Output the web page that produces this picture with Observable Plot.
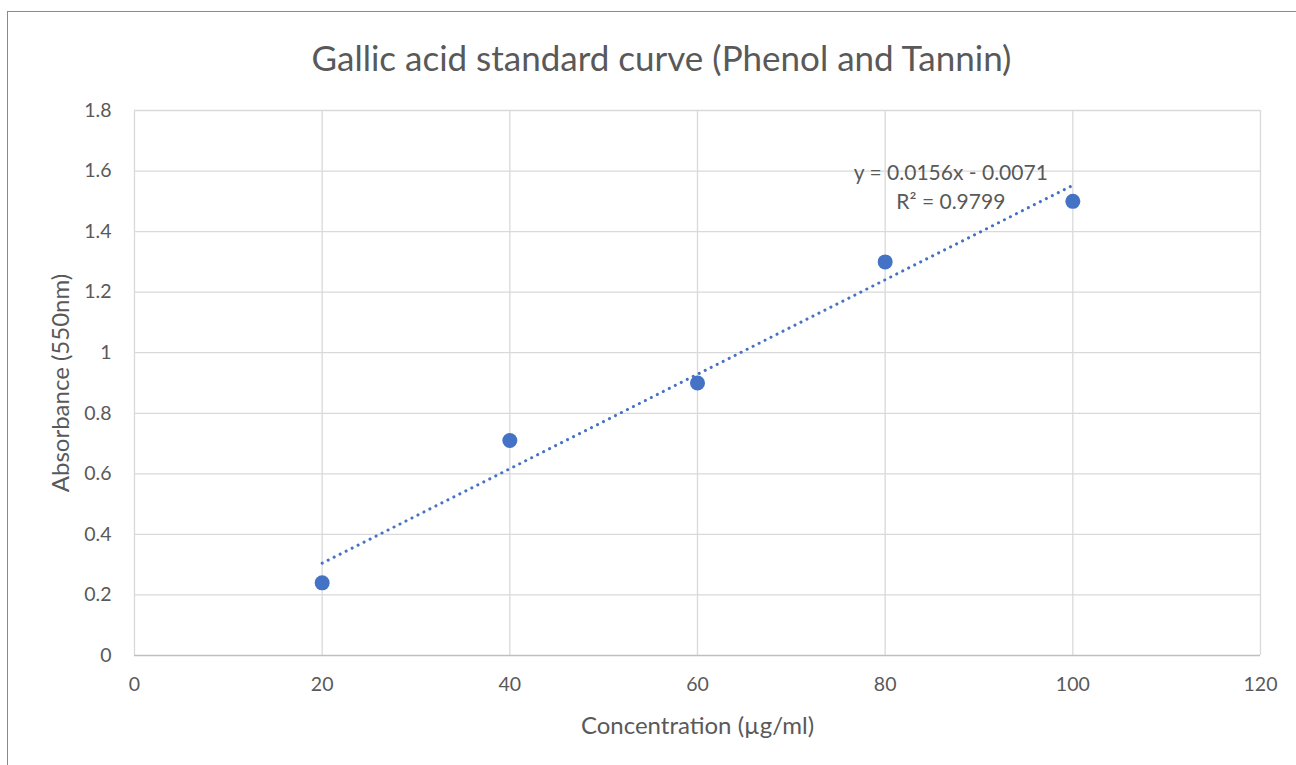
<!DOCTYPE html>
<html>
<head>
<meta charset="utf-8">
<script src="https://cdn.jsdelivr.net/npm/d3@7"></script>
<script src="https://cdn.jsdelivr.net/npm/@observablehq/plot@0.6"></script>
<style>
  html, body { margin: 0; padding: 0; background: #fff; }
  #wrap { position: relative; width: 1296px; height: 765px; overflow: hidden; font-family: Lato, "Open Sans", sans-serif; }
  #chart { position: absolute; left: 0; top: 0; }
  #frame { position: absolute; left: 7px; top: 11px; width: 1400px; height: 900px; border: 1.5px solid #8a8a8a; box-sizing: border-box; pointer-events: none; }
  #title { position: absolute; top: 36px; left: 0; width: 1323px; text-align: center; font-size: 35px; line-height: 42px; color: #595959; font-family: Lato, "Open Sans", sans-serif; }
</style>
</head>
<body>
<div id="wrap">
  <div id="chart"></div>
  <div id="title"></div>
  <div id="frame"></div>
</div>
<script>
const title = "Gallic acid standard curve (Phenol and Tannin)";
const xLabel = "Concentration (µg/ml)";
const yLabel = "Absorbance (550nm)";
const concentration = [20, 40, 60, 80, 100];
const absorbance = [0.24, 0.71, 0.90, 1.30, 1.50];
const xTicks = [0, 20, 40, 60, 80, 100, 120];
const yTicks = [0, 0.2, 0.4, 0.6, 0.8, 1, 1.2, 1.4, 1.6, 1.8];
const slope = 0.0156;
const intercept = -0.0071;
const eqLines = ["y = 0.0156x - 0.0071", "R² = 0.9799"];

document.getElementById("title").textContent = title;

const points = concentration.map((c, i) => ({x: c, y: absorbance[i]}));
const xMin = d3.min(concentration), xMax = d3.max(concentration);
const trend = [xMin, xMax].map(x => ({x, y: slope * x + intercept}));

const blue = "#4472C4";
const grid = "#d9d9d9";
const textCol = "#595959";

const plot = Plot.plot({
  width: 1296,
  height: 765,
  marginLeft: 134,
  marginRight: 36,
  marginTop: 110,
  marginBottom: 110,
  style: { background: "transparent", fontFamily: "Lato, 'Open Sans', sans-serif", color: textCol, overflow: "visible" },
  x: { domain: [0, 120], ticks: xTicks },
  y: { domain: [0, 1.8], ticks: yTicks },
  marks: [
    Plot.ruleX(xTicks, { stroke: grid, strokeWidth: 1.3 }),
    Plot.ruleY(yTicks.filter(t => t > 0), { stroke: grid, strokeWidth: 1.3 }),
    Plot.ruleY([0], { stroke: "#bfbfbf", strokeWidth: 1.3 }),
    Plot.axisX({ ticks: xTicks, tickSize: 0, tickPadding: 22, fontSize: 19.5, label: null, fill: textCol }),
    Plot.axisY({ ticks: yTicks, tickSize: 0, tickPadding: 23, fontSize: 19.5, label: null, fill: textCol, tickFormat: d => String(+d.toFixed(1)) }),
    Plot.text([xLabel], { frameAnchor: "bottom", lineAnchor: "middle", dy: 71, fontSize: 24, fill: textCol }),
    Plot.text([yLabel], { frameAnchor: "left", textAnchor: "middle", lineAnchor: "middle", dx: -73, rotate: -90, fontSize: 24, fill: textCol }),
    Plot.line(trend, { x: "x", y: "y", stroke: blue, strokeWidth: 3, strokeDasharray: "0.1 6.6", strokeLinecap: "round" }),
    Plot.dot(points, { x: "x", y: "y", r: 7.5, fill: blue, stroke: "none" }),
    Plot.text([eqLines[0]], { x: () => 87, y: () => 1.592, fontSize: 21, fill: textCol }),
    Plot.text([eqLines[1]], { x: () => 87, y: () => 1.496, fontSize: 21, fill: textCol })
  ]
});
document.getElementById("chart").appendChild(plot);
</script>
</body>
</html>
